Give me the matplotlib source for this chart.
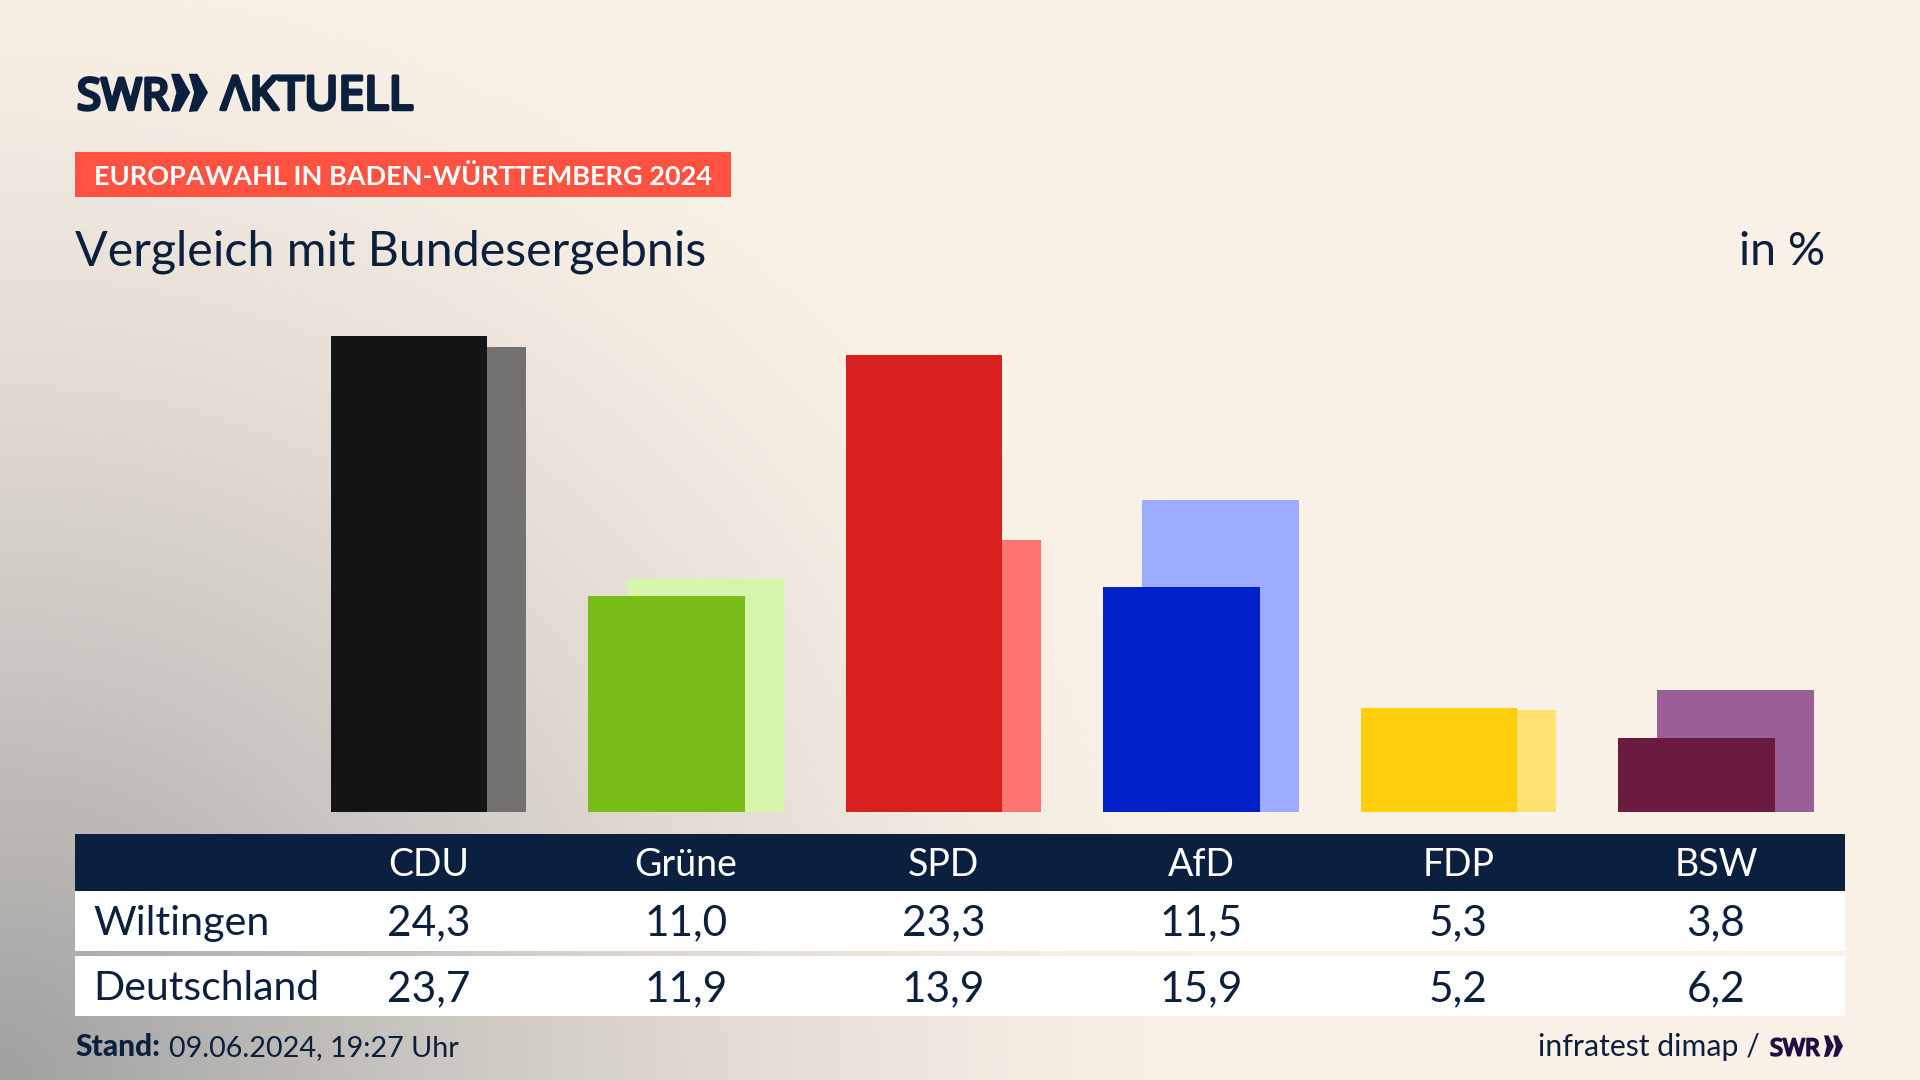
import matplotlib
matplotlib.use('Agg')
import matplotlib.pyplot as plt
import matplotlib.patheffects as pe
from matplotlib.patches import Polygon, Rectangle
import numpy as np

parties = ['CDU', 'Grüne', 'SPD', 'AfD', 'FDP', 'BSW']
wiltingen = [24.3, 11.0, 23.3, 11.5, 5.3, 3.8]
deutschland = [23.7, 11.9, 13.9, 15.9, 5.2, 6.2]
front_colors = ['#141414', '#79BD1A', '#D8201F', '#0020C8', '#FFCE0A', '#6B1A40']
back_colors = ['#737270', '#D8F5AC', '#FF7370', '#9EACFF', '#FFE070', '#9B5E97']

NAVY = '#0B1F3F'
PURPLE = '#1F0F45'
FONT = 'Lato'
LOGO_FONT = 'Liberation Sans Narrow'

W, H = 1920, 1080
fig = plt.figure(figsize=(W / 100, H / 100), dpi=100)

#BACKGROUND + PIXEL LAYER-------------------------------
bg = fig.add_axes([0, 0, 1, 1])
bg.set_xlim(0, W)
bg.set_ylim(H, 0)
bg.axis('off')

yy, xx = np.mgrid[0:H:270j, 0:W:480j]
dist = np.sqrt((xx / 1200) ** 2 + ((H - yy) / 1150) ** 2)
mix = np.clip(1 - dist, 0, 1) ** 1.4
base = np.array([250, 241, 230]) / 255
corner = np.array([160, 160, 160]) / 255
img = base + (corner - base)[None, None, :] * mix[:, :, None]
bg.imshow(img, extent=(0, W, H, 0), aspect='auto', zorder=0)


def put(x, y, s, size, color=NAVY, weight='normal', ha='left', font=FONT):
    return bg.text(x, y, s, fontsize=size, color=color, fontweight=weight, ha=ha,
                   va='baseline', family=[font, 'Noto Sans', 'DejaVu Sans'], zorder=5)


def logo_text(x, y, s, size, color, stroke):
    #narrow font only comes in a light cut here, so thicken it
    t = put(x, y, s, size, color=color, font=LOGO_FONT)
    t.set_path_effects([pe.withStroke(linewidth=stroke, foreground=color)])


def chevrons(x0, x1, y0, y1, color):
    #two arrowheads of the SWR logo
    w = (x1 - x0) * 0.52
    mid = (y0 + y1) / 2
    for left in (x0, x1 - w):
        pts = [(left, y0 + (y1 - y0) * 0.02), (left + w * 0.45, y0 + (y1 - y0) * 0.02), (left + w, mid),
               (left + w * 0.45, y1 - (y1 - y0) * 0.02), (left, y1), (left + w * 0.28, mid)]
        bg.add_patch(Polygon(pts, closed=True, fc=color, ec='none', zorder=5))


#HEADER--------------------------------------------------
logo_text(77, 109.5, 'SWR', 31.5, NAVY, 2.5)
chevrons(171, 208, 73, 112, NAVY)
logo_text(221, 109.5, 'ΛKTUELL', 33.6, NAVY, 2.5)

bg.add_patch(Rectangle((75, 152), 656, 45, fc='#FF5240', ec='none', zorder=2))
put(94, 185, 'EUROPAWAHL IN BADEN-WÜRTTEMBERG 2024', 19.55, color='white', weight='bold')
put(75, 265, 'Vergleich mit Bundesergebnis', 34.8)
put(1825, 265, 'in %', 33.5, ha='right')

#BARS----------------------------------------------------
ax = fig.add_axes([75 / W, 1 - 812 / H, (1845 - 75) / W, (812 - 300) / H])
ax.patch.set_alpha(0)
ax.set_xlim(-1.3728, 5.501)
ax.set_ylim(0, 26.12)
ax.axis('off')
x = np.arange(len(parties))
ax.bar(x + 0.0757, deutschland, width=0.606, color=back_colors, linewidth=0, zorder=2)
ax.bar(x - 0.0757, wiltingen, width=0.606, color=front_colors, linewidth=0, zorder=3)

#TABLE---------------------------------------------------
bg.add_patch(Rectangle((75, 834), 1770, 57, fc=NAVY, ec='none', zorder=2))
bg.add_patch(Rectangle((75, 891), 1770, 60, fc='white', ec='none', zorder=2))
bg.add_patch(Rectangle((75, 956), 1770, 60, fc='white', ec='none', zorder=2))

put(93, 935, 'Wiltingen', 29.7)
put(93, 1000, 'Deutschland', 29.5)
for i, party in enumerate(parties):
    col = 428.5 + 257.5 * i
    put(col, 876, party, 27, color='white', ha='center')
    put(col, 935, f'{wiltingen[i]:.1f}'.replace('.', ','), 30.5, ha='center')
    put(col, 1001, f'{deutschland[i]:.1f}'.replace('.', ','), 30.5, ha='center')

#FOOTER--------------------------------------------------
put(75, 1056, 'Stand:', 21.5, weight='black')
put(169, 1056, '09.06.2024, 19:27 Uhr', 20.7)
put(1760, 1056, 'infratest dimap /', 21.8, ha='right')
logo_text(1770, 1055.5, 'SWR', 17, PURPLE, 1.4)
chevrons(1824, 1843, 1035, 1057, PURPLE)

fig.savefig('out.png', dpi=100)
